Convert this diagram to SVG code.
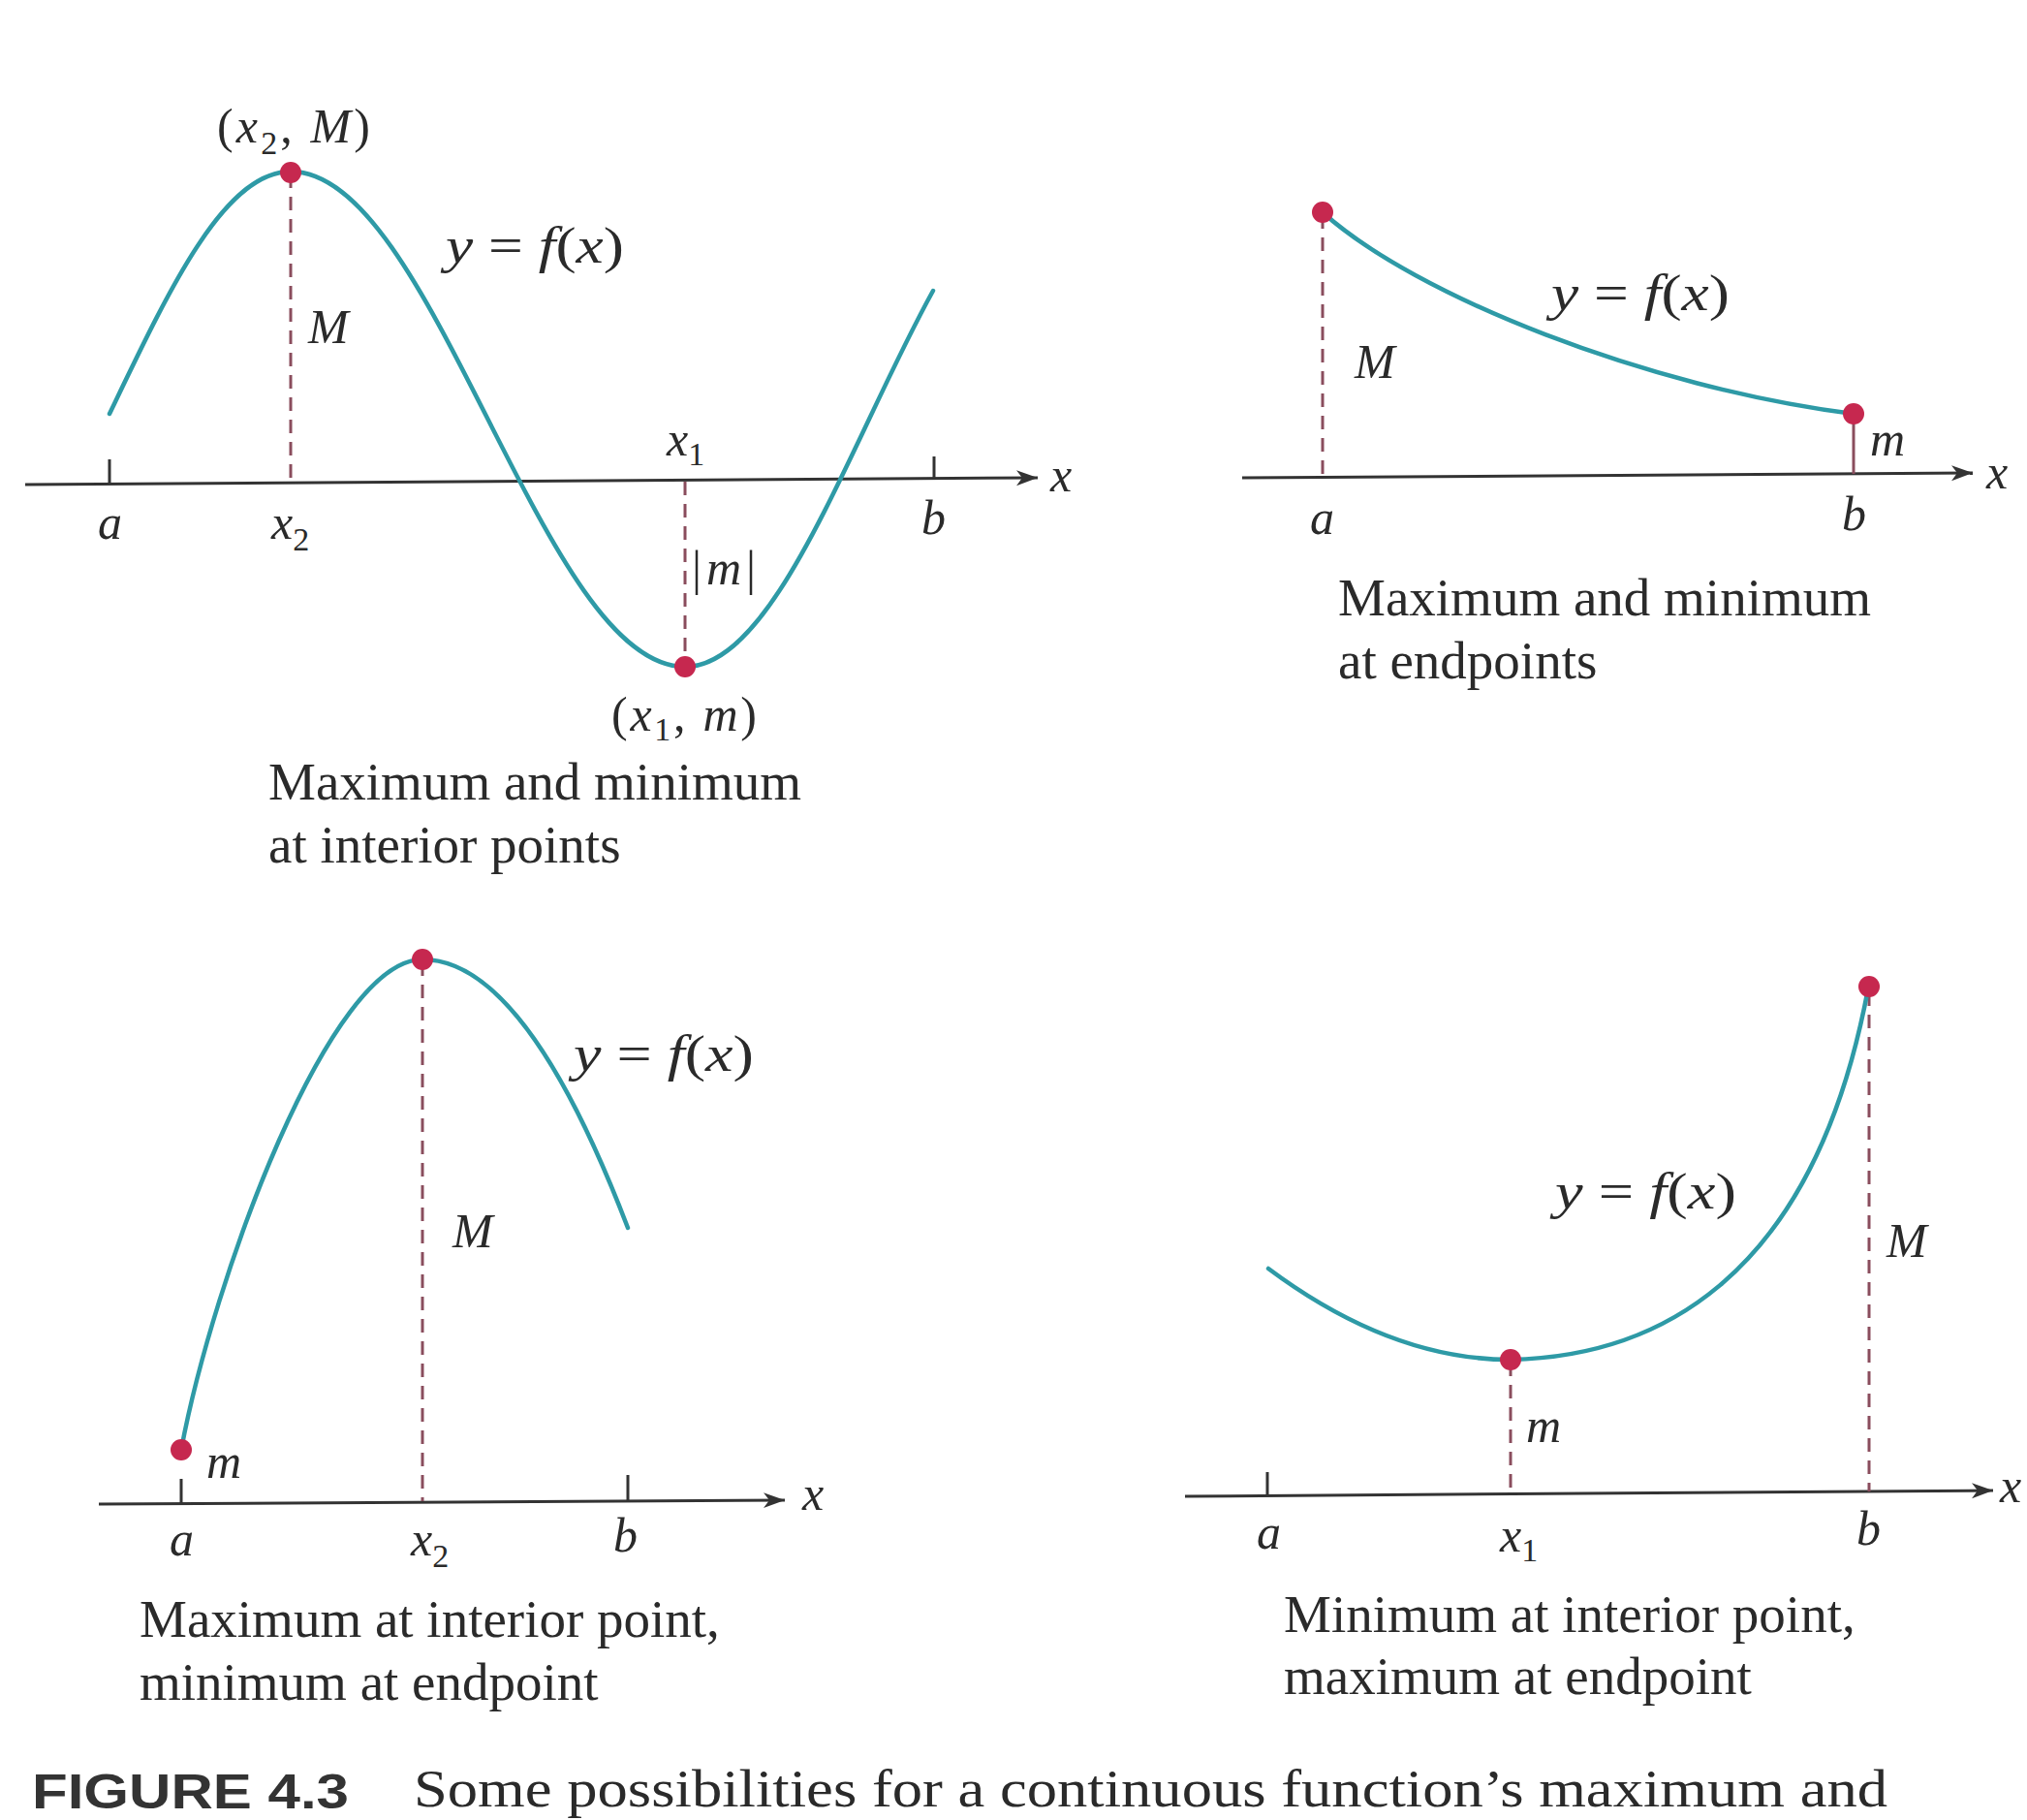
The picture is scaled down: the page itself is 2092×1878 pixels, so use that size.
<svg xmlns="http://www.w3.org/2000/svg" width="2092" height="1878" viewBox="0 0 2092 1878">
<defs>
<marker id="arr" markerUnits="userSpaceOnUse" markerWidth="26" markerHeight="18" refX="22" refY="9" orient="auto"><path d="M0,1 L22,9 L0,17 L6,9 z" fill="#333"/></marker>
<style>
.axis{stroke:#333;stroke-width:3;fill:none}
.tick{stroke:#333;stroke-width:3}
.curve{stroke:#2e9aa6;stroke-width:4.5;fill:none;stroke-linecap:round}
.dash{stroke:#8a4d5d;stroke-width:3;stroke-dasharray:14 9;fill:none}
.dot{fill:#c6284f}
.lbl{font-family:"Liberation Serif","Times New Roman",serif;font-style:italic;font-size:50px;fill:#2a2a2a}
.eq{font-size:52px}
.rm{font-style:normal}
.sub{font-size:34px}
.cap{font-family:"Liberation Serif","Times New Roman",serif;font-size:55px;fill:#2a2a2a}
.fig{font-family:"Liberation Sans",Arial,sans-serif;font-weight:bold;font-size:50px;fill:#333}
</style>
</defs>
<rect width="2092" height="1878" fill="#ffffff"/>

<!-- Panel 1: top-left -->
<g id="panel-interior">
  <line class="axis" x1="26" y1="500" x2="1071" y2="493" marker-end="url(#arr)"/>
  <line class="tick" x1="113" y1="474" x2="113" y2="499"/>
  <line class="tick" x1="964" y1="471" x2="964" y2="494"/>
  <line class="dash" x1="300" y1="180" x2="300" y2="498"/>
  <line class="dash" x1="707" y1="497" x2="707" y2="686"/>
  <path class="curve" d="M113,427 C174,300 231,177 300,177 C373.7,177 437.1,301.6 503.5,432.5 C569.9,563.4 633.4,688 707,688 C775.8,688 835,563.4 897,432.5 C919,386 941,339.7 963,300"/>
  <circle class="dot" cx="300" cy="178" r="11"/>
  <circle class="dot" cx="707" cy="688" r="11"/>
  <text class="lbl" x="224" y="147" textLength="158"><tspan class="rm">(</tspan>x<tspan class="sub rm" dy="12">2</tspan><tspan class="rm" dy="-12">, </tspan>M<tspan class="rm">)</tspan></text>
  <text class="lbl eq" x="460" y="271" textLength="184" lengthAdjust="spacingAndGlyphs">y <tspan class="rm">=</tspan> f<tspan class="rm">(</tspan>x<tspan class="rm">)</tspan></text>
  <text class="lbl" x="318" y="354">M</text>
  <text class="lbl" x="688" y="470">x<tspan class="sub rm" dy="10">1</tspan></text>
  <text class="lbl" x="714" y="603" textLength="66"><tspan class="rm">|</tspan>m<tspan class="rm">|</tspan></text>
  <text class="lbl" x="631" y="754" textLength="150"><tspan class="rm">(</tspan>x<tspan class="sub rm" dy="10">1</tspan><tspan class="rm" dy="-10">, </tspan>m<tspan class="rm">)</tspan></text>
  <text class="lbl" x="101" y="556">a</text>
  <text class="lbl" x="280" y="556">x<tspan class="sub rm" dy="12">2</tspan></text>
  <text class="lbl" x="951" y="551">b</text>
  <text class="lbl" x="1084" y="507">x</text>
  <text class="cap" x="277" y="825">Maximum and minimum</text>
  <text class="cap" x="277" y="890">at interior points</text>
</g>

<!-- Panel 2: top-right -->
<g id="panel-endpoints">
  <line class="axis" x1="1282" y1="493" x2="2036" y2="488" marker-end="url(#arr)"/>
  <line class="dash" x1="1365" y1="222" x2="1365" y2="492"/>
  <line class="dash" x1="1913" y1="430" x2="1913" y2="489" style="stroke-dasharray:none"/>
  <path class="curve" d="M1365,219 C1460,305 1700,400 1913,427"/>
  <circle class="dot" cx="1365" cy="219" r="11"/>
  <circle class="dot" cx="1913" cy="427" r="11"/>
  <text class="lbl eq" x="1601" y="320" textLength="184" lengthAdjust="spacingAndGlyphs">y <tspan class="rm">=</tspan> f<tspan class="rm">(</tspan>x<tspan class="rm">)</tspan></text>
  <text class="lbl" x="1398" y="390">M</text>
  <text class="lbl" x="1930" y="470">m</text>
  <text class="lbl" x="1352" y="551">a</text>
  <text class="lbl" x="1901" y="547">b</text>
  <text class="lbl" x="2050" y="504">x</text>
  <text class="cap" x="1381" y="635">Maximum and minimum</text>
  <text class="cap" x="1381" y="700">at endpoints</text>
</g>

<!-- Panel 3: bottom-left -->
<g id="panel-max-interior">
  <line class="axis" x1="102" y1="1552" x2="810" y2="1548" marker-end="url(#arr)"/>
  <line class="tick" x1="187" y1="1526" x2="187" y2="1551"/>
  <line class="tick" x1="648" y1="1522" x2="648" y2="1549"/>
  <line class="dash" x1="436" y1="993" x2="436" y2="1549"/>
  <path class="curve" d="M187,1496 C220,1320 340,990 436,990 Q542,990 648,1267"/>
  <circle class="dot" cx="187" cy="1496" r="11"/>
  <circle class="dot" cx="436" cy="990" r="11"/>
  <text class="lbl eq" x="592" y="1105" textLength="186" lengthAdjust="spacingAndGlyphs">y <tspan class="rm">=</tspan> f<tspan class="rm">(</tspan>x<tspan class="rm">)</tspan></text>
  <text class="lbl" x="467" y="1287">M</text>
  <text class="lbl" x="213" y="1525">m</text>
  <text class="lbl" x="175" y="1605">a</text>
  <text class="lbl" x="424" y="1605">x<tspan class="sub rm" dy="12">2</tspan></text>
  <text class="lbl" x="633" y="1601">b</text>
  <text class="lbl" x="828" y="1558">x</text>
  <text class="cap" x="144" y="1689">Maximum at interior point,</text>
  <text class="cap" x="144" y="1754">minimum at endpoint</text>
</g>

<!-- Panel 4: bottom-right -->
<g id="panel-min-interior">
  <line class="axis" x1="1223" y1="1544" x2="2057" y2="1538" marker-end="url(#arr)"/>
  <line class="tick" x1="1308" y1="1519" x2="1308" y2="1543"/>
  <line class="dash" x1="1559" y1="1406" x2="1559" y2="1541"/>
  <line class="dash" x1="1929" y1="1024" x2="1929" y2="1539"/>
  <path class="curve" d="M1309,1309 Q1435,1403 1559,1403 C1700,1400 1870,1330 1928,1020"/>
  <circle class="dot" cx="1559" cy="1403" r="11"/>
  <circle class="dot" cx="1929" cy="1018" r="11"/>
  <text class="lbl eq" x="1605" y="1247" textLength="187" lengthAdjust="spacingAndGlyphs">y <tspan class="rm">=</tspan> f<tspan class="rm">(</tspan>x<tspan class="rm">)</tspan></text>
  <text class="lbl" x="1947" y="1297">M</text>
  <text class="lbl" x="1575" y="1488">m</text>
  <text class="lbl" x="1297" y="1598">a</text>
  <text class="lbl" x="1548" y="1601">x<tspan class="sub rm" dy="10">1</tspan></text>
  <text class="lbl" x="1916" y="1594">b</text>
  <text class="lbl" x="2064" y="1550">x</text>
  <text class="cap" x="1325" y="1684">Minimum at interior point,</text>
  <text class="cap" x="1325" y="1748">maximum at endpoint</text>
</g>

<!-- Figure caption -->
<g id="figure-caption">
  <text class="fig" x="33" y="1866" textLength="327" lengthAdjust="spacingAndGlyphs">FIGURE 4.3</text>
  <text class="cap" x="427" y="1864" textLength="1521" lengthAdjust="spacingAndGlyphs">Some possibilities for a continuous function’s maximum and</text>
</g>
</svg>
